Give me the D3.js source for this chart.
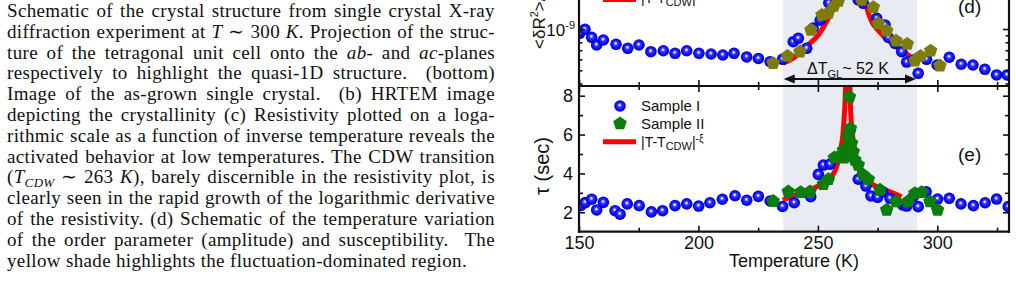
<!DOCTYPE html>
<html><head><meta charset="utf-8">
<script src="https://cdn.jsdelivr.net/npm/d3@7"></script>
<style>body{margin:0;background:#fff} svg{display:block}</style>
</head><body>
<svg id="c" width="1016" height="300"></svg>
<script>
// ---------------- data ----------------
const tempTicks = [150, 200, 250, 300];
const tempMinorTicks = [175, 225, 275, 325];
const tauTicks = [2, 4, 6, 8];
const tauMinorTicks = [3, 5, 7];
const ratioMajorTicks = [1e-9];
const ratioMinorTicks = [4e-10, 5e-10, 6e-10, 7e-10, 8e-10, 9e-10, 2e-9, 3e-9, 4e-9, 5e-9];
const shadeRange = [235.5, 291.5];
const legendLabels = ["Sample I", "Sample II"];

// panel (d): <dR^2>/<R>^2  (log scale)
const s1TempD = [150.3,152.5,155.3,157.4,160.2,165.5,170.4,175.1,180.1,185.3,190.2,195.1,200.2,205.3,210.2,214.9,220.2,225.1,230,235.2,239.7,241.8,245.3,248,251,254.6,
  266.9,269,274.6,278.1,279.5,282.3,285.1,287.2,289.9,292,295.5,299.9,305,310,314.9,319.9,324.8,329.2];
const s1RatioD = [0.93e-9,0.995e-9,0.87e-9,0.764e-9,0.831e-9,0.773e-9,0.723e-9,0.764e-9,0.683e-9,0.694e-9,0.665e-9,0.694e-9,0.665e-9,0.657e-9,0.646e-9,0.665e-9,0.625e-9,0.609e-9,0.577e-9,0.601e-9,0.808e-9,0.855e-9,0.723e-9,1.017e-9,1.16e-9,1.55e-9,
  1.63e-9,1.54e-9,1.197e-9,1.07e-9,0.867e-9,0.786e-9,0.683e-9,0.574e-9,0.594e-9,0.475e-9,0.601e-9,0.546e-9,0.622e-9,0.553e-9,0.546e-9,0.508e-9,0.462e-9,0.462e-9];
const s2TempD = [231.3,237.3,242.5,247.1,251.7,254.4,256.7,258.6, 268.3,273.2,275.3,278.8,282.7,287.4,290.6,293,297.2,301.1];
const s2RatioD = [0.562e-9,0.635e-9,0.683e-9,0.983e-9,1.265e-9,1.31e-9,1.47e-9,1.6e-9, 1.63e-9,1.44e-9,1.10e-9,0.972e-9,0.821e-9,0.777e-9,0.587e-9,0.635e-9,0.694e-9,0.540e-9];
const fitTempD = [235.5,240.4,245.3,250.2,254.4,257.2,259.5, 268,270.1,272.6,275.9,281.4,288.5];
const fitRatioD = [0.562e-9,0.625e-9,0.751e-9,0.904e-9,1.20e-9,1.55e-9,2.2e-9, 2.2e-9,1.50e-9,1.125e-9,0.951e-9,0.777e-9,0.635e-9];

// panel (e): tau (sec)
const s1TempE = [150.8,152.6,155.3,157.4,160.2,165.1,167.2,170.2,175.2,180.3,185,190.2,195.1,200.1,204.8,210,215.3,220.2,225.1,230,235.2,240.1,247,250.2,252.3,255.1,
  266.9,270.1,272.2,275,277.1,280.2,285.5,287.2,289.9,292,295.3,300.1,305,309.9,315.1,320,324.8,329.7];
const s1TauE = [2.35,2.5,2.67,2.12,2.51,2.08,1.9,2.43,2.34,2.02,2.08,2.34,2.43,2.32,2.49,2.67,2.85,2.62,2.82,2.58,2.3,2.49,2.8,3.95,4.43,4.48,
  3.7,3.35,2.84,2.77,3.06,2.72,2.38,2.32,2.8,2.29,3.06,2.68,2.72,2.43,2.34,2.49,2.68,2.29];
const s2TempE = [231.3,237.6,242.8,246.7,252.3,254.4,256.9,259.3,260.7,261.0,262.1,262.3,262.6,263.0,263.2,263.3,263.6,264.0,264.1,264.8,265.5,266.9,269,271.1,276,278.8,282.7,287.6,290.6,293.4,296.9,300.1];
const s2TauE = [2.57,3.06,3.03,3.06,3.44,3.70,4.81,4.91,5.2,4.8,5.32,4.9,5.9,5.3,7.94,6.14,6.32,5.0,5.55,5.12,4.69,4.43,3.92,3.70,3.15,2.12,2.55,2.55,2.98,3.03,2.55,2.12];
const fitTempE = [235.3,240,245,250,253,255.8,258,259.3,260.7,261.3,261.9, 263.2,263.7,265,266,269,272,275,280,285];
const fitTauE = [2.63,2.85,3.1,3.35,3.6,3.85,4.4,5.1,6.3,7.5,9.0, 9.0,7.2,5.5,4.6,3.85,3.5,3.3,3.06,2.8];

// caption text (left column)
const captionLines = [
  [["Schematic of the crystal structure from single crystal X-ray"]],
  [["diffraction experiment at "],["T","i"],[" \u223C 300 "],["K","i"],[". Projection of the struc-"]],
  [["ture of the tetragonal unit cell onto the "],["ab","i"],["- and "],["ac","i"],["-planes"]],
  [["respectively to highlight the quasi-1D structure.  (bottom)"]],
  [["Image of the as-grown single crystal.  (b) HRTEM image"]],
  [["depicting the crystallinity (c) Resistivity plotted on a loga-"]],
  [["rithmic scale as a function of inverse temperature reveals the"]],
  [["activated behavior at low temperatures. The CDW transition"]],
  [["("],["T","i"],["CDW","sub"],[" \u223C 263 "],["K","i"],["), barely discernible in the resistivity plot, is"]],
  [["clearly seen in the rapid growth of the logarithmic derivative"]],
  [["of the resistivity. (d) Schematic of the temperature variation"]],
  [["of the order parameter (amplitude) and susceptibility.  The"]],
  [["yellow shade highlights the fluctuation-dominated region."]]
];

// ---------------- drawing ----------------
const svg = d3.select("#c");
const defs = svg.append("defs");
const g = defs.append("radialGradient").attr("id","ball")
  .attr("cx","50%").attr("cy","50%").attr("r","52%").attr("fx","46%").attr("fy","40%");
[[0,"#ffffff"],[0.14,"#c8c8ff"],[0.34,"#3535ff"],[0.8,"#0000f2"],[1,"#0000b4"]]
  .forEach(([o,c]) => g.append("stop").attr("offset",o).attr("stop-color",c));

const L = 579, R = 1009, midY = 86, botY = 231.7, topY = -100;
const x = d3.scaleLinear().domain([150, 330]).range([L, R]);
const yE = d3.scaleLinear().domain([1, 8.5]).range([botY, midY]);
const yD = d3.scaleLog().domain([3.837e-10, 8.74e-9]).range([midY, topY]);

defs.append("clipPath").attr("id","clipE").append("rect").attr("x",L).attr("y",midY).attr("width",R-L).attr("height",botY-midY);
defs.append("clipPath").attr("id","clipD").append("rect").attr("x",L).attr("y",topY).attr("width",R-L).attr("height",midY-topY);

// shading
svg.append("rect").attr("x", x(shadeRange[0])).attr("y", topY)
  .attr("width", x(shadeRange[1]) - x(shadeRange[0])).attr("height", botY - topY)
  .attr("fill", "#e8ebf1");

function pentPath(r) {
  const pts = d3.range(5).map(i => {
    const a = -Math.PI/2 + i * 2*Math.PI/5;
    return [r*Math.cos(a), r*Math.sin(a)];
  });
  return "M" + pts.map(p => p.join(",")).join("L") + "Z";
}
const BALL_R = 5.8, PENT_R = 7.1;

function drawPanel(clipId, yS, fitT, fitV, s1T, s1V, s2T, s2V, pentColor) {
  const gp = svg.append("g").attr("clip-path", `url(#${clipId})`);
  const line = d3.line().x(d => x(d[0])).y(d => yS(d[1])).curve(d3.curveMonotoneX);
  gp.append("path").attr("d", line(d3.zip(fitT, fitV)))
    .attr("fill","none").attr("stroke","#ff0000").attr("stroke-width",5).attr("stroke-linejoin","round");
  gp.selectAll(null).data(d3.zip(s1T, s1V)).enter().append("circle")
    .attr("cx", d => x(d[0])).attr("cy", d => yS(d[1])).attr("r", BALL_R)
    .attr("fill","url(#ball)");
  gp.selectAll(null).data(d3.zip(s2T, s2V)).enter().append("path")
    .attr("d", pentPath(PENT_R))
    .attr("transform", d => `translate(${x(d[0])},${yS(d[1])})`)
    .attr("fill", pentColor);
}
drawPanel("clipD", yD, fitTempD, fitRatioD, s1TempD, s1RatioD, s2TempD, s2RatioD, "#7f7c0e");
drawPanel("clipE", yE, fitTempE, fitTauE, s1TempE, s1TauE, s2TempE, s2TauE, "#0b7d0b");

// axes
const FONT = "'Liberation Sans', Arial, sans-serif";
function styleAxis(sel, labelSize) {
  sel.select(".domain").remove();
  sel.selectAll(".tick line").attr("stroke","#111").attr("stroke-width",1.6);
  sel.selectAll(".tick text").attr("fill","#111").style("font-family",FONT).style("font-size",labelSize+"px");
}
// bottom of (e)
svg.append("g").attr("transform",`translate(0,${botY})`)
  .call(d3.axisBottom(x).tickValues(tempTicks).tickSize(-6).tickPadding(5).tickFormat(d3.format("d")))
  .call(s => styleAxis(s, 18));
svg.append("g").attr("transform",`translate(0,${botY})`)
  .call(d3.axisBottom(x).tickValues(tempMinorTicks).tickSize(-4).tickFormat(""))
  .call(s => styleAxis(s, 18));
// top of (e) and bottom of (d)
[[d3.axisTop, tempTicks, 6],[d3.axisTop, tempMinorTicks, 4],[d3.axisBottom, tempTicks, 6],[d3.axisBottom, tempMinorTicks, 4]]
  .forEach(([ax, tv, len]) => {
    svg.append("g").attr("transform",`translate(0,${midY})`)
      .call(ax(x).tickValues(tv).tickSize(-len).tickFormat("")).call(s => styleAxis(s, 18));
  });
// y axes (e)
svg.append("g").attr("transform",`translate(${L},0)`)
  .call(d3.axisLeft(yE).tickValues(tauTicks).tickSize(-6).tickPadding(6).tickFormat(d3.format("d")))
  .call(s => styleAxis(s, 18));
svg.append("g").attr("transform",`translate(${L},0)`)
  .call(d3.axisLeft(yE).tickValues(tauMinorTicks).tickSize(-4).tickFormat("")).call(s => styleAxis(s, 18));
svg.append("g").attr("transform",`translate(${R},0)`)
  .call(d3.axisRight(yE).tickValues(tauTicks).tickSize(-6).tickFormat("")).call(s => styleAxis(s, 18));
svg.append("g").attr("transform",`translate(${R},0)`)
  .call(d3.axisRight(yE).tickValues(tauMinorTicks).tickSize(-4).tickFormat("")).call(s => styleAxis(s, 18));
// y axes (d)
[[d3.axisLeft, L],[d3.axisRight, R]].forEach(([ax, px]) => {
  svg.append("g").attr("transform",`translate(${px},0)`)
    .call(ax(yD).tickValues(ratioMajorTicks).tickSize(-6).tickFormat("")).call(s => styleAxis(s, 18));
  svg.append("g").attr("transform",`translate(${px},0)`)
    .call(ax(yD).tickValues(ratioMinorTicks).tickSize(-3.5).tickFormat("")).call(s => styleAxis(s, 18));
});
// 10^-9 label
ratioMajorTicks.forEach(v => {
  const exp = Math.round(Math.log10(v));
  const t = svg.append("text").attr("x", L - 4).attr("y", yD(v) + 6.5)
    .attr("text-anchor","end").attr("fill","#111").style("font-family",FONT).style("font-size","17px");
  t.append("tspan").text("10");
  t.append("tspan").attr("dy",-7).style("font-size","11px").text("-" + Math.abs(exp));
});

// frame
const frame = svg.append("g").attr("stroke","#111").attr("stroke-width",2.2).attr("fill","none");
frame.append("line").attr("x1",L).attr("x2",L).attr("y1",topY).attr("y2",botY+1.1);
frame.append("line").attr("x1",R).attr("x2",R).attr("y1",topY).attr("y2",botY+1.1);
frame.append("line").attr("x1",L-1.1).attr("x2",R+1.1).attr("y1",botY).attr("y2",botY);
frame.append("line").attr("x1",L-1.1).attr("x2",R+1.1).attr("y1",midY).attr("y2",midY);

// axis titles
svg.append("text").attr("x",(L+R)/2).attr("y",267).attr("text-anchor","middle")
  .attr("fill","#111").style("font-family",FONT).style("font-size","18px").text("Temperature (K)");
svg.append("text").attr("transform",`translate(549,166) rotate(-90)`).attr("text-anchor","middle")
  .attr("fill","#111").style("font-family",FONT).style("font-size","20px").text("\u03C4 (sec)");
{
  const t = svg.append("text").attr("transform",`translate(545,49) rotate(-90)`).attr("text-anchor","start")
    .attr("fill","#111").style("font-family",FONT).style("font-size","17px");
  t.append("tspan").text("<\u03B4R");
  t.append("tspan").attr("dy",-7).style("font-size","11px").text("2");
  t.append("tspan").attr("dy",7).text(">/<R>");
  t.append("tspan").attr("dy",-7).style("font-size","11px").text("2");
}
// panel letters
svg.append("text").attr("x",958).attr("y",13).attr("fill","#111").style("font-family",FONT).style("font-size","19px").text("(d)");
svg.append("text").attr("x",958).attr("y",161).attr("fill","#111").style("font-family",FONT).style("font-size","19px").text("(e)");

// Delta T annotation
{
  const t = svg.append("text").attr("x",807).attr("y",74).attr("fill","#111").style("font-family",FONT).style("font-size","16px");
  t.append("tspan").text("\u0394T");
  t.append("tspan").attr("dy",4).style("font-size","11px").text("GL");
  t.append("tspan").attr("dy",-4).text("~ 52 K");
  const ay = 79, x0 = x(shadeRange[0]) + 0.5, x1 = x(shadeRange[1]) - 1;
  svg.append("line").attr("x1",x0+8).attr("x2",x1-8).attr("y1",ay).attr("y2",ay).attr("stroke","#111").attr("stroke-width",2);
  svg.append("path").attr("d",`M${x0},${ay}L${x0+11},${ay-4.5}L${x0+11},${ay+4.5}Z`).attr("fill","#111");
  svg.append("path").attr("d",`M${x1},${ay}L${x1-11},${ay-4.5}L${x1-11},${ay+4.5}Z`).attr("fill","#111");
}

// legends
function fitLabel(xp, yp) {
  const t = svg.append("text").attr("x",xp).attr("y",yp).attr("fill","#111").style("font-family",FONT).style("font-size","14px");
  t.append("tspan").text("|T-T");
  t.append("tspan").attr("dy",3.5).style("font-size","11px").text("CDW");
  t.append("tspan").attr("dy",-3.5).text("|");
  t.append("tspan").attr("dy",-5).style("font-size","10px").text("-\u03BE");
}
// (d) legend (mostly cut off at top)
svg.append("line").attr("x1",603).attr("x2",636).attr("y1",-0.5).attr("y2",-0.5).attr("stroke","#ff0000").attr("stroke-width",5);
fitLabel(641, 2.5);
// (e) legend
svg.append("circle").attr("cx",620).attr("cy",106).attr("r",BALL_R).attr("fill","url(#ball)");
svg.append("text").attr("x",641).attr("y",111).attr("fill","#111").style("font-family",FONT).style("font-size","15px").text(legendLabels[0]);
svg.append("path").attr("d",pentPath(PENT_R)).attr("transform","translate(620,123.5)").attr("fill","#0b7d0b");
svg.append("text").attr("x",641).attr("y",128.5).attr("fill","#111").style("font-family",FONT).style("font-size","15px").text(legendLabels[1]);
svg.append("line").attr("x1",603).attr("x2",636).attr("y1",141.7).attr("y2",141.7).attr("stroke","#ff0000").attr("stroke-width",5);
fitLabel(641, 146.5);

// caption (justified)
const capX = 7, capW = 488;
captionLines.forEach((segs, i) => {
  const t = svg.append("text").attr("x",capX).attr("y",17 + i*20.8)
    .attr("fill","#111").style("font-family","'Liberation Serif', 'Times New Roman', serif")
    .style("font-size","19px").style("letter-spacing","0.35px").attr("xml:space","preserve");
  let prevSub = false;
  segs.forEach(([txt, st]) => {
    const sp = t.append("tspan").text(txt);
    if (st === "i") sp.style("font-style","italic");
    if (st === "sub") { sp.style("font-style","italic").style("font-size","13px").attr("dy",4); }
    else if (prevSub) sp.attr("dy",-4);
    prevSub = (st === "sub");
  });
  if (i < captionLines.length - 1) {
    const full = segs.map(s => s[0]).join("");
    const nSp = (full.match(/ /g) || []).length;
    const w = t.node().getBBox().width;
    const ws = (capW - w) / nSp;
    t.style("word-spacing", ws + "px");
    const w2 = t.node().getBBox().width;
    if (Math.abs(w2 - capW) > 3) {
      t.style("word-spacing", null).attr("textLength", capW).attr("lengthAdjust","spacing");
    }
  }
});
</script>
</body></html>
